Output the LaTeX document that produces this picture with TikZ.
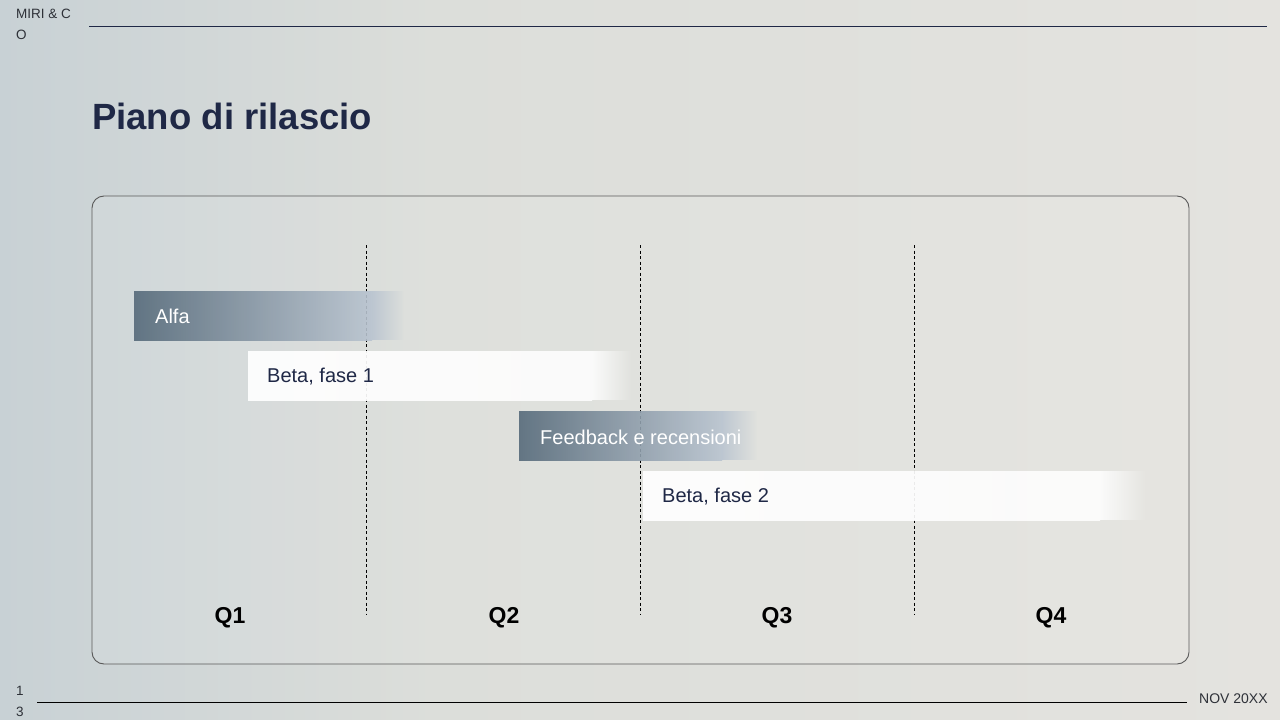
\documentclass[tikz,border=0pt]{standalone}
\usepackage{fontspec}
\setmainfont{Liberation Sans}
\usepackage{tikz}
\usetikzlibrary{fadings}
\definecolor{navy}{HTML}{1F2846}
\definecolor{slatedark}{HTML}{566A7A}
\definecolor{slatelight}{HTML}{B9C4D0}
\definecolor{bgleft}{HTML}{C8D1D5}
\definecolor{bgmid}{HTML}{DCDEDA}
\definecolor{bgright}{HTML}{E4E3DF}
\definecolor{inkgrey}{HTML}{2E3138}
\pgfdeclarehorizontalshading{bgshade}{100bp}{color(0bp)=(bgleft); color(25bp)=(bgleft); color(42bp)=(bgmid); color(75bp)=(bgright); color(100bp)=(bgright)}
\tikzfading[name=fadeout, left color=transparent!0, right color=transparent!100]

\begin{document}
\begin{tikzpicture}[x=1pt,y=-1pt,
	darkbar/.style={left color=slatedark,right color=slatelight,opacity=0.9},
	lightbar/.style={left color=white,right color=white!93!bgright,opacity=0.92},
	bartext/.style={anchor=west,inner sep=0,font=\fontsize{20}{22}\selectfont},
	qlabel/.style={inner sep=0,font=\fontsize{23}{26}\selectfont\bfseries,text=black},
	smalltext/.style={inner sep=0,anchor=north west,align=left,text=inkgrey,font=\fontsize{13.5}{21}\selectfont},
	gridline/.style={black,line width=0.7,dash pattern=on 3 off 2.5}]
	%background
	\useasboundingbox (0,0) rectangle (1280,720);
	\shade[shading=bgshade] (0,0) rectangle (1280,720);
	%% header and footer
	\node[smalltext] (brand) at (16,9) {MIRI \& C\\O};
	\draw[navy,line width=1] (89,26) -- (1267,26);
	\node[smalltext] (page) at (16,686) {1\\3};
	\draw[black,line width=1] (37,702) -- (1187,702);
	\node[smalltext,anchor=west,font=\fontsize{14}{16}\selectfont] (date) at (1199,699) {NOV 20XX};
	%% title
	\node[anchor=west,inner sep=0,text=navy,font=\fontsize{36.5}{40}\selectfont\bfseries] (title) at (92,116) {Piano di rilascio};
	%% frame
	\draw[black!65,line width=0.9,rounded corners=12,fill=white,fill opacity=0.08] (92,196) rectangle (1189,664);
	%% quarter dividers and labels
	\foreach \x in {366,640,914}{
		\draw[gridline] (\x,245) -- (\x,614);
		}
	\foreach \q/\x in {1/230,2/504,3/777,4/1051}{
		\node[qlabel] (q\q) at (\x,618) {Q\q};
		}
	%% bars: body then faded tail
	\shade[darkbar] (134,291) rectangle (372,340);
	\fill[slatelight,path fading=fadeout,opacity=0.9] (372,291) rectangle (404,340);
	\shade[lightbar] (248,351) rectangle (592,400);
	\fill[white!93!bgright,path fading=fadeout,opacity=0.92] (592,351) rectangle (632,400);
	\shade[darkbar] (519,411) rectangle (722,460);
	\fill[slatelight,path fading=fadeout,opacity=0.9] (722,411) rectangle (757,460);
	\shade[lightbar] (643,471) rectangle (1100,520);
	\fill[white!93!bgright,path fading=fadeout,opacity=0.92] (1100,471) rectangle (1146,520);
	\node[bartext,text=white] (alfa) at (155,316) {Alfa};
	\node[bartext,text=navy] (beta1) at (267,377) {Beta, fase 1};
	\node[bartext,text=white] (feedback) at (540,437) {Feedback e recensioni};
	\node[bartext,text=navy] (beta2) at (662,497) {Beta, fase 2};
\end{tikzpicture}
\end{document}
